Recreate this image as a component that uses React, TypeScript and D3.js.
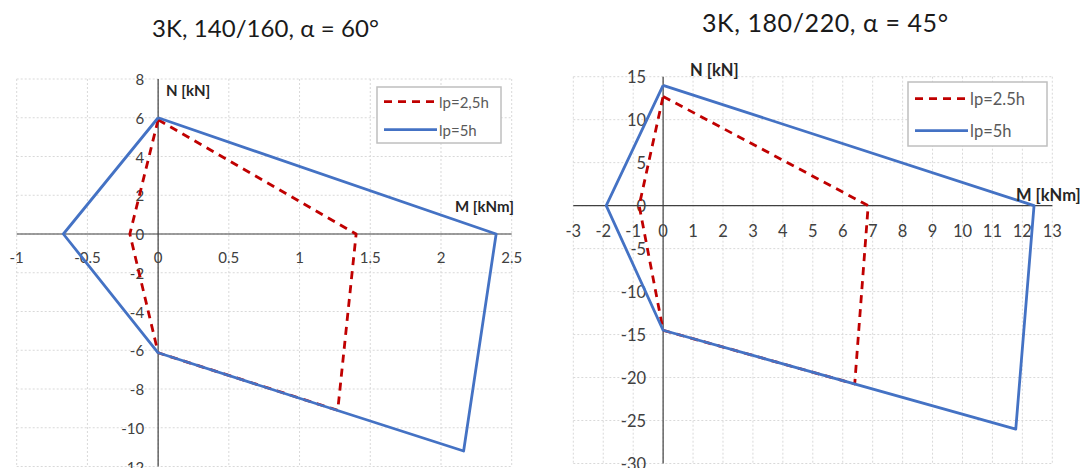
import React from "react";
import * as d3 from "d3";

// ---------- DATA ----------
const seriesNames = ["lp=2,5h", "lp=5h"];
const seriesNamesRight = ["lp=2.5h", "lp=5h"];

// Left chart: 3K, 140/160, α = 60°
const leftM_lp25 = [0, 1.4, 1.27, 0, -0.2, 0];
const leftN_lp25 = [5.9, 0, -9.1, -6.13, 0, 5.9];
const leftM_lp5 = [0, 2.39, 2.16, 0, -0.67, 0];
const leftN_lp5 = [6, 0, -11.2, -6.13, 0, 6];
const leftXTicks = [-1, -0.5, 0, 0.5, 1, 1.5, 2, 2.5];
const leftYTicks = [-12, -10, -8, -6, -4, -2, 0, 2, 4, 6, 8];

// Right chart: 3K, 180/220, α = 45°
const rightM_lp25 = [0, 6.85, 6.4, 0, -0.8, 0];
const rightN_lp25 = [12.7, 0, -20.75, -14.5, 0, 12.7];
const rightM_lp5 = [0, 12.39, 11.78, 0, -1.9, 0];
const rightN_lp5 = [14, 0, -26, -14.5, 0, 14];
const rightXTicks = [-3, -2, -1, 0, 1, 2, 3, 4, 5, 6, 7, 8, 9, 10, 11, 12, 13];
const rightYTicks = [-30, -25, -20, -15, -10, -5, 0, 5, 10, 15];

const titles = ["3K, 140/160, \u03B1 = 60\u00B0", "3K, 180/220, \u03B1 = 45\u00B0"];

const FONT = "Lato, 'Open Sans', sans-serif";
const RED = "#C00000";
const BLUE = "#4472C4";

type Cfg = {
  title: string;
  titleX: number;
  titleY: number;
  titleSize: number;
  titleLen: number;
  x0: number; x1: number; y0: number; y1: number;
  xDomain: [number, number];
  yDomain: [number, number];
  xTicks: number[];
  yTicks: number[];
  red: { m: number[]; n: number[] };
  blue: { m: number[]; n: number[] };
  names: string[];
  tickSize: number;
  yLabelGap: number;
  xLabelOff: number;
  nLabel: { x: number; y: number };
  mLabel: { x: number; y: number };
  legend: { x: number; y: number; w: number; h: number; size: number };
};

function Chart({ c }: { c: Cfg }) {
  const xs = d3.scaleLinear().domain(c.xDomain).range([c.x0, c.x1]);
  const ys = d3.scaleLinear().domain(c.yDomain).range([c.y1, c.y0]);
  const line = d3
    .line<[number, number]>()
    .x((d) => xs(d[0]))
    .y((d) => ys(d[1]));
  const redPts = c.red.m.map((m, i) => [m, c.red.n[i]] as [number, number]);
  const bluePts = c.blue.m.map((m, i) => [m, c.blue.n[i]] as [number, number]);
  const ax = xs(0);
  const ay = ys(0);
  const lg = c.legend;
  return (
    <g>
      <text
        x={c.titleX}
        y={c.titleY}
        fontFamily={FONT}
        fontSize={c.titleSize}
        textLength={c.titleLen}
        lengthAdjust="spacing"
        fill="#1a1a1a"
      >
        {c.title}
      </text>
      {/* grid */}
      {c.xTicks.map((t) => (
        <line
          key={"gx" + t}
          x1={xs(t)}
          x2={xs(t)}
          y1={c.y0}
          y2={c.y1}
          stroke="#d9d9d9"
          strokeWidth={1}
          strokeDasharray="2,2"
        />
      ))}
      {c.yTicks.map((t) => (
        <line
          key={"gy" + t}
          x1={c.x0}
          x2={c.x1}
          y1={ys(t)}
          y2={ys(t)}
          stroke="#d9d9d9"
          strokeWidth={1}
          strokeDasharray="2,2"
        />
      ))}
      {/* axes */}
      <line x1={c.x0} x2={c.x1} y1={ay} y2={ay} stroke="#404040" strokeWidth={1.2} />
      <line x1={ax} x2={ax} y1={c.y0} y2={c.y1} stroke="#404040" strokeWidth={1.2} />
      {/* tick labels */}
      {c.xTicks.map((t) => (
        <text
          key={"tx" + t}
          x={xs(t)}
          y={ay + c.xLabelOff}
          textAnchor="middle"
          dominantBaseline="central"
          fontFamily={FONT}
          fontSize={c.tickSize}
          fill="#404040"
        >
          {String(t)}
        </text>
      ))}
      {c.yTicks.map((t) => (
        <text
          key={"ty" + t}
          x={ax - c.yLabelGap}
          y={ys(t)}
          textAnchor="end"
          dominantBaseline="central"
          fontFamily={FONT}
          fontSize={c.tickSize}
          fill="#404040"
        >
          {String(t)}
        </text>
      ))}
      {/* series */}
      <path
        d={line(redPts) || ""}
        fill="none"
        stroke={RED}
        strokeWidth={2.8}
        strokeDasharray="8,6"
        strokeLinejoin="round"
      />
      <path
        d={line(bluePts) || ""}
        fill="none"
        stroke={BLUE}
        strokeWidth={2.8}
        strokeLinejoin="round"
      />
      {/* axis titles */}
      <text
        x={c.nLabel.x}
        y={c.nLabel.y}
        dominantBaseline="central"
        fontFamily={FONT}
        fontWeight="bold"
        fontSize={c.tickSize}
        fill="#262626"
      >
        N [kN]
      </text>
      <text
        x={c.mLabel.x}
        y={c.mLabel.y}
        dominantBaseline="central"
        fontFamily={FONT}
        fontWeight="bold"
        fontSize={c.tickSize}
        fill="#262626"
      >
        M [kNm]
      </text>
      {/* legend */}
      <rect
        x={lg.x}
        y={lg.y}
        width={lg.w}
        height={lg.h}
        fill="#ffffff"
        stroke="#bfbfbf"
        strokeWidth={1.5}
      />
      {c.names.map((nm, i) => {
        const yy = lg.y + lg.h * (i === 0 ? 0.26 : 0.76);
        return (
          <g key={nm}>
            <line
              x1={lg.x + 7}
              x2={lg.x + 60}
              y1={yy}
              y2={yy}
              stroke={i === 0 ? RED : BLUE}
              strokeWidth={2.8}
              strokeDasharray={i === 0 ? "8,6" : undefined}
            />
            <text
              x={lg.x + 62}
              y={yy}
              dominantBaseline="central"
              fontFamily={FONT}
              fontSize={lg.size}
              fill="#595959"
            >
              {nm}
            </text>
          </g>
        );
      })}
    </g>
  );
}

export default function App() {
  const left: Cfg = {
    title: titles[0],
    titleX: 152,
    titleY: 36.7,
    titleSize: 24,
    titleLen: 227,
    x0: 16.7,
    x1: 511.7,
    y0: 79,
    y1: 466.5,
    xDomain: [-1, 2.5],
    yDomain: [-12, 8],
    xTicks: leftXTicks,
    yTicks: leftYTicks,
    red: { m: leftM_lp25, n: leftN_lp25 },
    blue: { m: leftM_lp5, n: leftN_lp5 },
    names: seriesNames,
    tickSize: 15,
    yLabelGap: 14,
    xLabelOff: 23,
    nLabel: { x: 166, y: 90 },
    mLabel: { x: 455, y: 206 },
    legend: { x: 377, y: 87, w: 124, h: 56, size: 15 },
  };
  const right: Cfg = {
    title: titles[1],
    titleX: 702,
    titleY: 32.3,
    titleSize: 25,
    titleLen: 246,
    x0: 573.3,
    x1: 1052.3,
    y0: 76.7,
    y1: 463.5,
    xDomain: [-3, 13],
    yDomain: [-30, 15],
    xTicks: rightXTicks,
    yTicks: rightYTicks,
    red: { m: rightM_lp25, n: rightN_lp25 },
    blue: { m: rightM_lp5, n: rightN_lp5 },
    names: seriesNamesRight,
    tickSize: 16.5,
    yLabelGap: 17,
    xLabelOff: 25,
    nLabel: { x: 690, y: 70 },
    mLabel: { x: 1016, y: 195 },
    legend: { x: 908, y: 82, w: 139, h: 64, size: 16.5 },
  };
  return (
    <svg
      width={1088}
      height={468}
      style={{ position: "absolute", left: 0, top: 0, display: "block", background: "#fff" }}
    >
      <rect x={0} y={0} width={1088} height={468} fill="#fff" />
      <Chart c={left} />
      <Chart c={right} />
    </svg>
  );
}
